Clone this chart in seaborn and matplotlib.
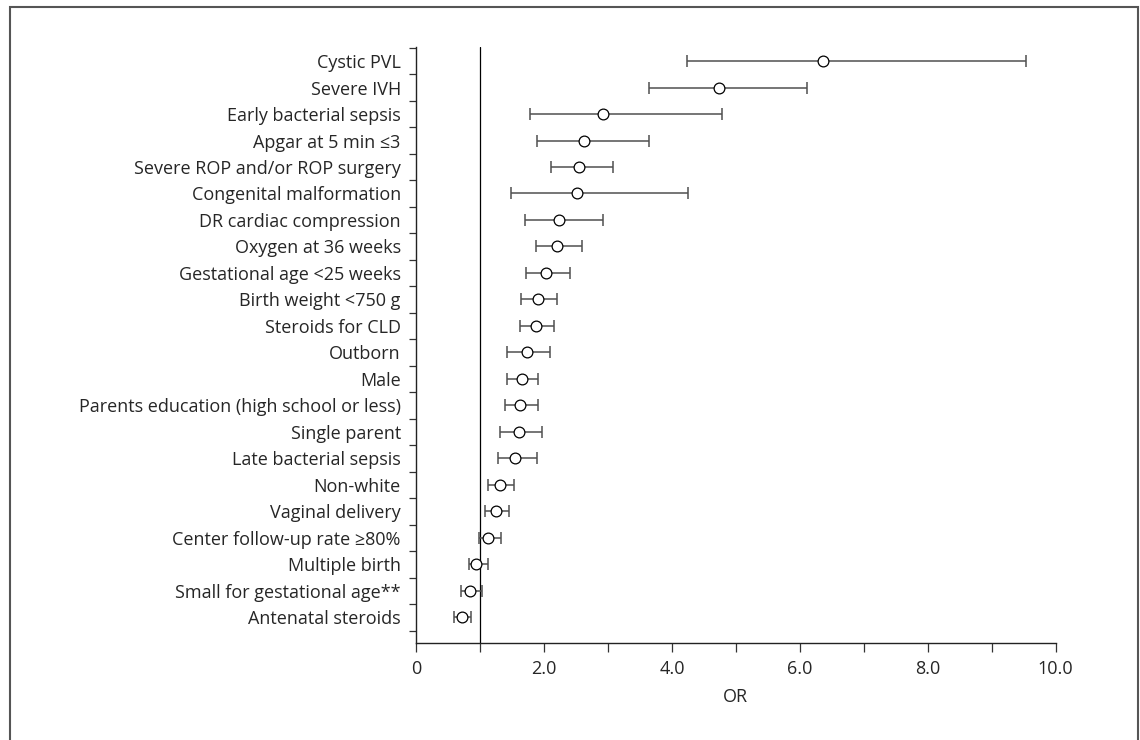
import pandas as pd
import matplotlib.pyplot as plt
import seaborn as sns
from matplotlib.patches import Rectangle
from matplotlib.ticker import MultipleLocator, FixedLocator

factors = ['Cystic PVL', 'Severe IVH', 'Early bacterial sepsis', 'Apgar at 5 min \u22643',
           'Severe ROP and/or ROP surgery', 'Congenital malformation', 'DR cardiac compression',
           'Oxygen at 36 weeks', 'Gestational age <25 weeks', 'Birth weight <750 g',
           'Steroids for CLD', 'Outborn', 'Male', 'Parents education (high school or less)',
           'Single parent', 'Late bacterial sepsis', 'Non-white', 'Vaginal delivery',
           'Center follow-up rate \u226580%', 'Multiple birth', 'Small for gestational age**',
           'Antenatal steroids']
odds_ratio = [6.36, 4.73, 2.93, 2.63, 2.55, 2.51, 2.23, 2.21, 2.03, 1.90, 1.88,
              1.74, 1.66, 1.62, 1.61, 1.55, 1.31, 1.25, 1.13, 0.94, 0.85, 0.72]
ci_low = [4.23, 3.64, 1.78, 1.89, 2.11, 1.49, 1.70, 1.88, 1.72, 1.64, 1.63,
          1.42, 1.42, 1.39, 1.31, 1.28, 1.13, 1.08, 0.98, 0.83, 0.70, 0.59]
ci_high = [9.54, 6.11, 4.78, 3.64, 3.08, 4.25, 2.92, 2.59, 2.40, 2.21, 2.15,
           2.09, 1.90, 1.90, 1.97, 1.89, 1.53, 1.45, 1.33, 1.12, 1.03, 0.86]
x_ticks = [0, 2, 4, 6, 8, 10]
x_tick_labels = ['0', '2.0', '4.0', '6.0', '8.0', '10.0']

df = pd.DataFrame({'factor': factors, 'OR': odds_ratio, 'lo': ci_low, 'hi': ci_high})
df['pos'] = range(len(df))

sns.set_style('ticks')
plt.rcParams['font.family'] = ['Open Sans', 'DejaVu Sans']

fig = plt.figure(figsize=(11.4, 7.4), dpi=100)
ax = fig.add_axes([0.365, 0.131, 0.561, 0.8055])

# confidence intervals
ax.errorbar(df['OR'], df['pos'], xerr=[df['OR'] - df['lo'], df['hi'] - df['OR']],
            fmt='none', ecolor='#505050', elinewidth=1.1, capsize=4.5, capthick=1.1, zorder=2)
sns.scatterplot(data=df, x='OR', y='pos', ax=ax, marker='o', s=60, color='white',
                edgecolor='black', linewidth=0.9, zorder=3)

ax.axvline(1, color='black', linewidth=0.9, zorder=1)

ax.set_xlim(0, 10)
ax.set_ylim(21.97, -0.53)
ax.xaxis.set_major_locator(FixedLocator(x_ticks))
ax.set_xticklabels(x_tick_labels, fontsize=13)
ax.xaxis.set_minor_locator(MultipleLocator(1))
ax.tick_params(axis='x', which='both', length=6.5, width=0.9, color='#333333', pad=6)

ax.yaxis.set_major_locator(FixedLocator(df['pos']))
ax.set_yticklabels(df['factor'], fontsize=13)
ax.yaxis.set_minor_locator(FixedLocator([p - 0.5 for p in range(len(df) + 1)]))
ax.tick_params(axis='y', which='major', length=0, pad=11)
ax.tick_params(axis='y', which='minor', length=5, width=0.9, color='#333333')

ax.set_xlabel('OR', fontsize=13, labelpad=7)
ax.set_ylabel('')
sns.despine(ax=ax)
for side in ['left', 'bottom']:
    ax.spines[side].set_linewidth(1.0)
    ax.spines[side].set_color('#222222')

fig.patches.append(Rectangle((10 / 1140, -0.02), 1128 / 1140, 1 - 7 / 740 + 0.02,
                             transform=fig.transFigure, fill=False,
                             edgecolor='#555555', linewidth=1.5))

fig.savefig('out.png', dpi=100)
